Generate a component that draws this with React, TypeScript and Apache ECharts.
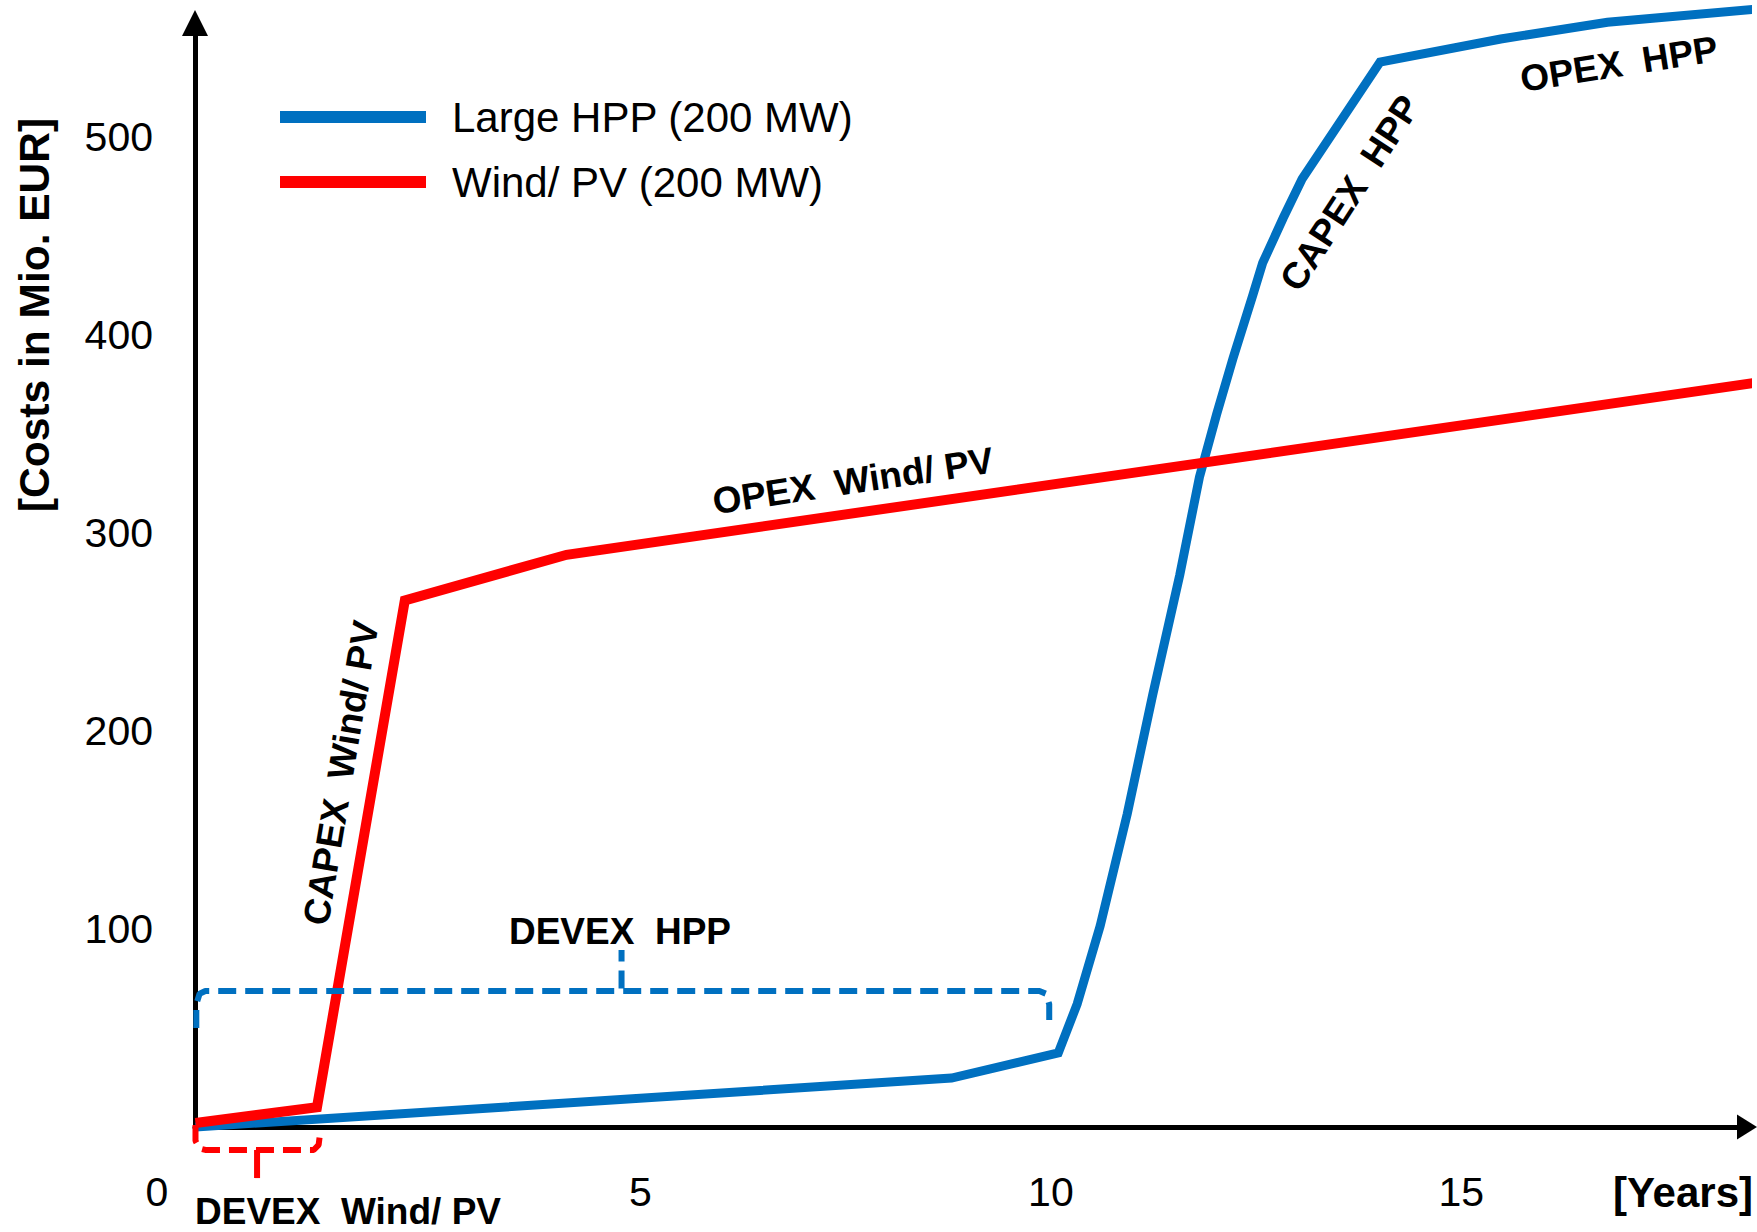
import React, { useEffect, useRef } from 'react';
import * as echarts from 'echarts';

const FONT = "'Liberation Sans', Arial, Helvetica, sans-serif";
const BLUE = '#0070C0';
const RED = '#FF0000';

// Series names (legend)
const seriesNames = ['Large HPP (200 MW)', 'Wind/ PV (200 MW)'];

// Large HPP cumulative costs [Mio. EUR] over years
const hppYears = [-0.42, 8.79, 10.09, 10.32, 10.6, 10.93, 11.24, 11.57, 11.81, 12.02, 12.22, 12.46, 12.58, 12.83, 13.06, 14.01, 15.48, 16.78, 18.6];
const hppCosts = [0, 24.7, 37.4, 62.1, 101.5, 158.1, 218.2, 278.8, 328.3, 360.1, 388.4, 420.2, 436.4, 459.1, 478.8, 537.9, 549.5, 558, 564.6];

// Wind/ PV cumulative costs
const windYears = [-0.42, 1.06, 2.13, 4.1, 18.6];
const windCosts = [2, 10, 266, 289, 376];

// Tick labels
const xTickValues = [0, 5, 10, 15];
const yTickValues = [100, 200, 300, 400, 500];

// DEVEX brackets (dashed)
const devexHppYears = [-0.41, -0.41, -0.37, -0.3, 9.86, 9.94, 9.98, 9.98];
const devexHppCosts = [50, 62, 67.3, 68.7, 68.7, 67.3, 62, 50];
const devexHppTipYears = [4.77, 4.77];
const devexHppTipCosts = [70, 89.4];
const devexWindYears = [-0.42, -0.42, -0.37, -0.3, 1.02, 1.08, 1.1];
const devexWindCosts = [1, -7, -10.8, -11.6, -11.6, -9, -2.5];
const devexWindTipYears = [0.33, 0.33];
const devexWindTipCosts = [-11.6, -25.8];

const zip = (xs: number[], ys: number[]) => xs.map((x, i) => [x, ys[i]]);

const txt = (text: string, x: number, y: number, deg: number, size: number, bold: boolean, align = 'center') => ({
  type: 'text',
  x,
  y,
  rotation: (deg * Math.PI) / 180,
  z: 100,
  style: {
    text,
    fill: '#000',
    fontSize: size,
    fontWeight: bold ? 'bold' : 'normal',
    fontFamily: FONT,
    align,
    textAlign: align,
    verticalAlign: 'middle',
    textVerticalAlign: 'middle',
  },
});

export default function App() {
  const ref = useRef<HTMLDivElement>(null);
  useEffect(() => {
    if (!ref.current) return;
    const chart = echarts.init(ref.current, null, { renderer: 'svg' });
    const dashed = (name: string, color: string, data: number[][], dash: any = [18, 9]) => ({
      type: 'line',
      name,
      data,
      symbol: 'none',
      showSymbol: false,
      clip: false,
      silent: true,
      z: 5,
      lineStyle: { color, width: 6, type: dash, cap: 'butt' },
      itemStyle: { color },
    });
    chart.setOption({
      animation: false,
      backgroundColor: '#ffffff',
      grid: { left: 195, right: 10, top: 23, bottom: 105, containLabel: false, outerBoundsMode: 'none' },
      legend: {
        data: seriesNames,
        orient: 'vertical',
        left: 275,
        top: 91,
        icon: 'rect',
        itemWidth: 146,
        itemHeight: 12,
        itemGap: 23,
        selectedMode: false,
        textStyle: { fontSize: 42, fontFamily: FONT, color: '#000', padding: [0, 0, 0, 21] },
      },
      xAxis: {
        type: 'value',
        min: -0.426,
        max: 18.48,
        splitNumber: 4,
        axisLine: {
          show: true,
          onZero: false,
          lineStyle: { color: '#000', width: 5 },
          symbol: ['none', 'triangle'],
          symbolSize: [25, 20],
        },
        axisTick: { show: false },
        splitLine: { show: false },
        axisLabel: {
          customValues: xTickValues,
          formatter: (v: number) => (xTickValues.includes(v) && v !== 0 ? String(v) : ''),
          fontSize: 41,
          fontFamily: FONT,
          color: '#000',
          margin: 44,
        },
      },
      yAxis: {
        type: 'value',
        min: 0,
        max: 557.6,
        interval: 100,
        axisLine: {
          show: true,
          onZero: false,
          lineStyle: { color: '#000', width: 5 },
          symbol: ['none', 'triangle'],
          symbolSize: [26, 26],
        },
        axisTick: { show: false },
        splitLine: { show: false },
        axisLabel: {
          customValues: yTickValues,
          formatter: (v: number) => (yTickValues.includes(v) ? String(v) : ''),
          fontSize: 41,
          fontFamily: FONT,
          color: '#000',
          margin: 42,
        },
      },
      series: [
        {
          type: 'line',
          name: seriesNames[0],
          data: zip(hppYears, hppCosts),
          symbol: 'none',
          showSymbol: false,
          clip: false,
          z: 2,
          lineStyle: { color: BLUE, width: 9, join: 'miter' },
          itemStyle: { color: BLUE },
        },
        {
          type: 'line',
          name: seriesNames[1],
          data: zip(windYears, windCosts),
          symbol: 'none',
          showSymbol: false,
          clip: false,
          z: 3,
          lineStyle: { color: RED, width: 10, join: 'miter' },
          itemStyle: { color: RED },
        },
        dashed('DEVEX HPP', BLUE, zip(devexHppYears, devexHppCosts)),
        dashed('DEVEX HPP tip', BLUE, zip(devexHppTipYears, devexHppTipCosts)),
        dashed('DEVEX Wind/ PV', RED, zip(devexWindYears, devexWindCosts)),
        dashed('DEVEX Wind/ PV tip', RED, zip(devexWindTipYears, devexWindTipCosts), 'solid'),
      ],
      graphic: [
        txt('[Costs in Mio. EUR]', 34, 315, 90, 42.5, true),
        txt('[Years]', 1753, 1192, 0, 42, true, 'right'),
        txt('0', 157, 1192, 0, 41, false),
        txt('DEVEX  HPP', 620, 931, 0, 37, true),
        txt('DEVEX  Wind/ PV', 195, 1211, 0, 37, true, 'left'),
        txt('OPEX  Wind/ PV', 853, 481, 8.5, 37, true),
        txt('CAPEX  Wind/ PV', 341, 773, 80.5, 37, true),
        txt('CAPEX  HPP', 1350, 193, 57, 37, true),
        txt('OPEX  HPP', 1619, 64, 9, 37, true),
      ],
    });
    return () => chart.dispose();
  }, []);
  return (
    <div
      ref={ref}
      style={{ position: 'absolute', left: 0, top: 0, width: 1757, height: 1232, background: '#fff' }}
    />
  );
}
